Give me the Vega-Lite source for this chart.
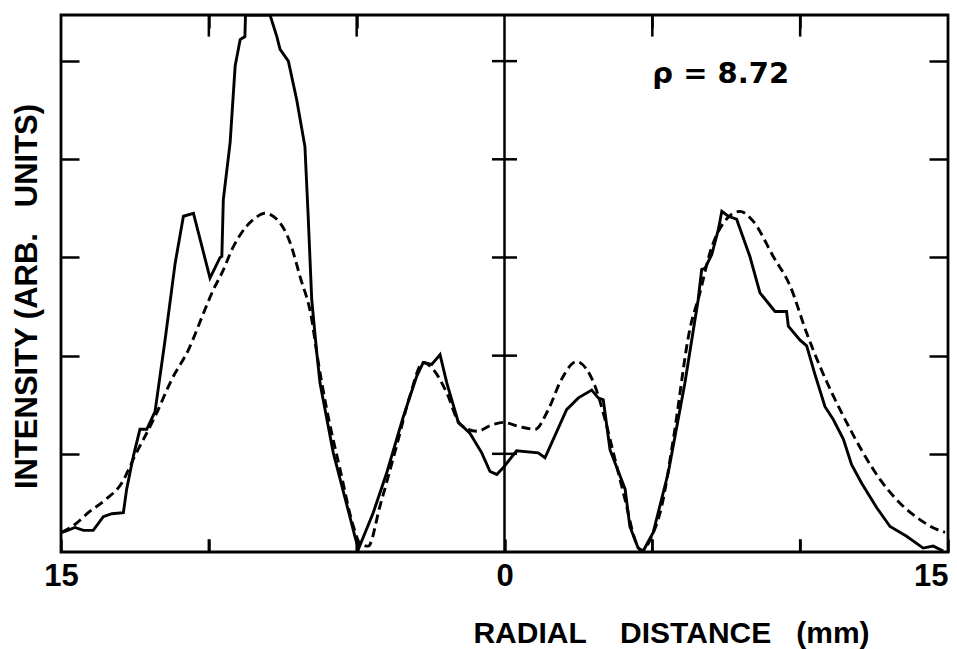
{
  "$schema": "https://vega.github.io/schema/vega-lite/v6.json",
  "width": 887,
  "height": 537,
  "autosize": "none",
  "padding": {"left": 61, "top": 15, "right": 9, "bottom": 97},
  "background": "white",
  "config": {
    "view": {"stroke": "black", "strokeWidth": 2.8},
    "axis": {"domain": false, "grid": false, "tickColor": "black", "tickWidth": 2.5, "labelColor": "black", "titleColor": "black", "labelFont": "Liberation Sans", "titleFont": "Liberation Sans", "labelFontWeight": "bold", "titleFontWeight": "bold"}
  },
  "datasets": {
    "measured": [
      {"x": -15.0, "y": 0.20}, {"x": -14.86, "y": 0.21}, {"x": -14.53, "y": 0.25}, {"x": -14.24, "y": 0.22}, {"x": -13.91, "y": 0.22},
      {"x": -13.57, "y": 0.36}, {"x": -13.28, "y": 0.39}, {"x": -12.89, "y": 0.40}, {"x": -12.78, "y": 0.64}, {"x": -12.55, "y": 0.98},
      {"x": -12.33, "y": 1.25}, {"x": -12.10, "y": 1.25}, {"x": -11.82, "y": 1.43}, {"x": -11.48, "y": 2.16}, {"x": -11.14, "y": 2.94},
      {"x": -10.86, "y": 3.42}, {"x": -10.52, "y": 3.45}, {"x": -9.96, "y": 2.79}, {"x": -9.62, "y": 3.00}, {"x": -9.56, "y": 3.01},
      {"x": -9.51, "y": 3.59}, {"x": -9.28, "y": 4.17}, {"x": -9.11, "y": 4.95}, {"x": -8.94, "y": 5.22}, {"x": -8.78, "y": 5.25},
      {"x": -8.76, "y": 5.47}, {"x": -7.93, "y": 5.47}, {"x": -7.70, "y": 5.25}, {"x": -7.59, "y": 5.12}, {"x": -7.31, "y": 5.00},
      {"x": -7.03, "y": 4.61}, {"x": -6.75, "y": 4.13}, {"x": -6.64, "y": 3.42}, {"x": -6.52, "y": 2.57}, {"x": -6.35, "y": 2.03},
      {"x": -6.24, "y": 1.72}, {"x": -5.79, "y": 1.01}, {"x": -5.23, "y": 0.36}, {"x": -5.06, "y": 0.16}, {"x": -4.94, "y": 0.03},
      {"x": -4.44, "y": 0.40}, {"x": -3.98, "y": 0.81}, {"x": -3.42, "y": 1.38}, {"x": -2.97, "y": 1.79}, {"x": -2.75, "y": 1.93},
      {"x": -2.46, "y": 1.91}, {"x": -2.18, "y": 2.01}, {"x": -1.95, "y": 1.72}, {"x": -1.56, "y": 1.32}, {"x": -1.17, "y": 1.21},
      {"x": -0.77, "y": 1.01}, {"x": -0.49, "y": 0.82}, {"x": -0.26, "y": 0.79}, {"x": -0.04, "y": 0.86}, {"x": 0.41, "y": 1.03},
      {"x": 1.14, "y": 1.01}, {"x": 1.37, "y": 0.96}, {"x": 2.10, "y": 1.45}, {"x": 2.50, "y": 1.57}, {"x": 2.95, "y": 1.65},
      {"x": 3.17, "y": 1.57}, {"x": 3.34, "y": 1.55}, {"x": 3.57, "y": 1.04}, {"x": 4.08, "y": 0.64}, {"x": 4.24, "y": 0.26},
      {"x": 4.52, "y": 0.04}, {"x": 4.69, "y": 0.01}, {"x": 5.03, "y": 0.20}, {"x": 5.54, "y": 0.81}, {"x": 6.10, "y": 1.72},
      {"x": 6.55, "y": 2.57}, {"x": 6.67, "y": 2.88}, {"x": 6.78, "y": 2.89}, {"x": 7.01, "y": 3.03}, {"x": 7.23, "y": 3.28},
      {"x": 7.35, "y": 3.47}, {"x": 7.57, "y": 3.42}, {"x": 7.85, "y": 3.39}, {"x": 8.30, "y": 3.01}, {"x": 8.64, "y": 2.64},
      {"x": 9.15, "y": 2.45}, {"x": 9.54, "y": 2.45}, {"x": 9.60, "y": 2.30}, {"x": 9.99, "y": 2.16}, {"x": 10.22, "y": 2.10},
      {"x": 10.50, "y": 1.81}, {"x": 10.84, "y": 1.48}, {"x": 11.12, "y": 1.35}, {"x": 11.46, "y": 1.15}, {"x": 11.74, "y": 0.89},
      {"x": 12.08, "y": 0.70}, {"x": 12.59, "y": 0.45}, {"x": 13.04, "y": 0.26}, {"x": 13.60, "y": 0.16}, {"x": 14.16, "y": 0.04},
      {"x": 14.50, "y": 0.06}, {"x": 14.84, "y": 0.01}
    ],
    "fit": [
      {"x": -14.97, "y": 0.20}, {"x": -14.53, "y": 0.28}, {"x": -14.08, "y": 0.40}, {"x": -13.51, "y": 0.53}, {"x": -12.95, "y": 0.70},
      {"x": -12.50, "y": 0.98}, {"x": -11.82, "y": 1.38}, {"x": -11.25, "y": 1.76}, {"x": -10.69, "y": 2.06}, {"x": -10.13, "y": 2.47},
      {"x": -9.85, "y": 2.67}, {"x": -9.56, "y": 2.84}, {"x": -9.17, "y": 3.11}, {"x": -8.72, "y": 3.32}, {"x": -8.44, "y": 3.40},
      {"x": -8.10, "y": 3.45}, {"x": -7.70, "y": 3.39}, {"x": -7.25, "y": 3.15}, {"x": -6.92, "y": 2.81}, {"x": -6.52, "y": 2.37},
      {"x": -6.35, "y": 2.03}, {"x": -6.01, "y": 1.45}, {"x": -5.56, "y": 0.84}, {"x": -5.11, "y": 0.26}, {"x": -4.89, "y": 0.09},
      {"x": -4.61, "y": 0.06}, {"x": -4.21, "y": 0.47}, {"x": -3.65, "y": 1.08}, {"x": -3.20, "y": 1.59}, {"x": -2.75, "y": 1.93},
      {"x": -2.41, "y": 1.86}, {"x": -1.95, "y": 1.62}, {"x": -1.50, "y": 1.30}, {"x": -0.94, "y": 1.23}, {"x": -0.38, "y": 1.30},
      {"x": -0.04, "y": 1.32}, {"x": 0.47, "y": 1.28}, {"x": 1.03, "y": 1.25}, {"x": 1.48, "y": 1.45}, {"x": 1.93, "y": 1.76},
      {"x": 2.44, "y": 1.94}, {"x": 2.78, "y": 1.86}, {"x": 3.06, "y": 1.69}, {"x": 3.40, "y": 1.35}, {"x": 3.74, "y": 0.94},
      {"x": 4.08, "y": 0.53}, {"x": 4.41, "y": 0.13}, {"x": 4.64, "y": 0.01}, {"x": 4.98, "y": 0.16}, {"x": 5.32, "y": 0.47},
      {"x": 5.71, "y": 1.15}, {"x": 6.27, "y": 2.27}, {"x": 6.61, "y": 2.64}, {"x": 6.95, "y": 3.05}, {"x": 7.40, "y": 3.35},
      {"x": 7.96, "y": 3.47}, {"x": 8.41, "y": 3.37}, {"x": 9.09, "y": 3.01}, {"x": 9.66, "y": 2.71}, {"x": 10.22, "y": 2.23},
      {"x": 10.67, "y": 1.89}, {"x": 11.12, "y": 1.59}, {"x": 11.57, "y": 1.32}, {"x": 12.13, "y": 1.01}, {"x": 12.70, "y": 0.74},
      {"x": 13.37, "y": 0.50}, {"x": 14.05, "y": 0.33}, {"x": 14.62, "y": 0.23}, {"x": 14.90, "y": 0.20}
    ],
    "center": [{"x": 0}],
    "cross": [
      {"x": 0, "y": 1}, {"x": 0, "y": 2}, {"x": 0, "y": 3}, {"x": 0, "y": 4}, {"x": 0, "y": 5}
    ],
    "xticks": [
      {"x": -10, "y": 0, "y2": 0.13}, {"x": -5, "y": 0, "y2": 0.13}, {"x": 5, "y": 0, "y2": 0.13}, {"x": 10, "y": 0, "y2": 0.13},
      {"x": -10, "y": 5.25, "y2": 5.47}, {"x": -5, "y": 5.25, "y2": 5.47}, {"x": 5, "y": 5.25, "y2": 5.47}, {"x": 10, "y": 5.25, "y2": 5.47}
    ],
    "label": [
      {"x": 5.0, "y": 4.78, "t": "ρ = 8.72"}
    ]
  },
  "layer": [
    {
      "data": {"name": "measured"},
      "mark": {"type": "line", "color": "black", "strokeWidth": 2.9, "clip": true},
      "encoding": {
        "x": {"field": "x", "type": "quantitative",
          "scale": {"domain": [-15, 15], "nice": false, "zero": false},
          "axis": {"orient": "bottom", "values": [-15, -10, -5, 0, 5, 10, 15], "tickSize": -13, "labelPadding": 22,
            "labelExpr": "datum.value == 0 ? '0' : (abs(datum.value) == 15 ? '15' : '')",
            "labelFontSize": 31,
            "labelAlign": {"condition": {"test": "datum.value == 15", "value": "right"}, "value": "center"},
            "title": "RADIAL\u00a0\u00a0\u00a0 DISTANCE\u00a0\u00a0 (mm)", "titleFontSize": 30,
            "titleX": 610, "titleY": 90, "titleAlign": "center", "titleBaseline": "alphabetic", "labelOverlap": false}},
        "y": {"field": "y", "type": "quantitative",
          "scale": {"domain": [0, 5.47], "nice": false, "zero": false},
          "axis": {"orient": "left", "values": [1, 2, 3, 4, 5], "tickSize": -18, "labels": false,
            "title": "INTENSITY (ARB.\u00a0\u00a0 UNITS)", "titleFontSize": 31,
            "titleAngle": 270, "titleX": -25, "titleY": 281, "titleAlign": "center", "titleBaseline": "alphabetic"}}
      }
    },
    {
      "data": {"name": "fit"},
      "mark": {"type": "line", "color": "black", "strokeWidth": 2.9, "strokeDash": [9, 5], "interpolate": "monotone", "clip": true},
      "encoding": {
        "x": {"field": "x", "type": "quantitative",
          "axis": {"orient": "top", "values": [-10, -5, 5, 10], "tickSize": -13, "labels": false, "title": null}},
        "y": {"field": "y", "type": "quantitative",
          "axis": {"orient": "right", "values": [1, 2, 3, 4, 5], "tickSize": -19, "labels": false, "title": null}}
      }
    },
    {
      "data": {"name": "center"},
      "mark": {"type": "rule", "color": "black", "strokeWidth": 2.5},
      "encoding": {"x": {"field": "x", "type": "quantitative", "axis": null}}
    },
    {
      "data": {"name": "cross"},
      "mark": {"type": "tick", "orient": "horizontal", "color": "black", "size": 25, "thickness": 2.5, "opacity": 1},
      "encoding": {
        "x": {"field": "x", "type": "quantitative", "axis": null},
        "y": {"field": "y", "type": "quantitative", "axis": null}
      }
    },
    {
      "data": {"name": "xticks"},
      "mark": {"type": "rule", "color": "black", "strokeWidth": 2.5},
      "encoding": {
        "x": {"field": "x", "type": "quantitative", "axis": null},
        "y": {"field": "y", "type": "quantitative", "axis": null},
        "y2": {"field": "y2"}
      }
    },
    {
      "data": {"name": "label"},
      "mark": {"type": "text", "color": "black", "font": "DejaVu Sans", "fontWeight": "bold", "fontSize": 29, "align": "left", "baseline": "alphabetic"},
      "encoding": {
        "x": {"field": "x", "type": "quantitative", "axis": null},
        "y": {"field": "y", "type": "quantitative", "axis": null},
        "text": {"field": "t"}
      }
    }
  ]
}
